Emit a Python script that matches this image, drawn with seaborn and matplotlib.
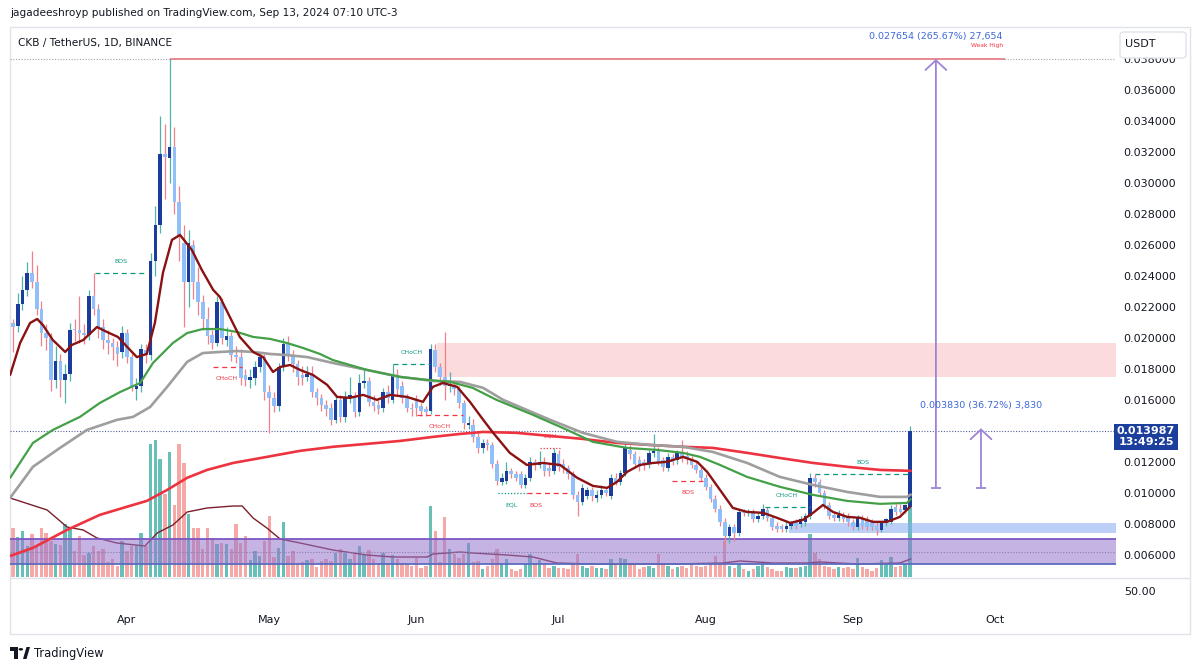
import numpy as np
import pandas as pd
import matplotlib
matplotlib.use("Agg")
import matplotlib.pyplot as plt
import matplotlib.transforms as mtrans
from matplotlib.patches import FancyBboxPatch, Rectangle, Circle, Polygon
from matplotlib.lines import Line2D
import seaborn as sns

# ---------------------------------------------------------------- data
start_date = "2024-03-08"

opens = [
    0.0210, 0.0208, 0.0222, 0.0231, 0.0242, 0.0236, 0.0219, 0.0203, 0.0200, 0.0173,
    0.0185, 0.0173, 0.0177, 0.0206, 0.0205, 0.0203, 0.0202, 0.0227, 0.0219, 0.0207,
    0.0199, 0.0197, 0.0194, 0.0191, 0.0203, 0.0188, 0.0167, 0.0169, 0.0192, 0.0189,
    0.0250, 0.0273, 0.0319, 0.0316, 0.0323, 0.0288, 0.0261, 0.0236, 0.0260, 0.0236,
    0.0223, 0.0212, 0.0202, 0.0197, 0.0223, 0.0199, 0.0201, 0.0189, 0.0188, 0.0176,
    0.0173, 0.0174, 0.0181, 0.0188, 0.0165, 0.0161, 0.0156, 0.0181, 0.0196, 0.0189,
    0.0183, 0.0176, 0.0175, 0.0177, 0.0165, 0.0161, 0.0157, 0.0155, 0.0147, 0.0160,
    0.0149, 0.0162, 0.0162, 0.0152, 0.0171, 0.0172, 0.0159, 0.0157, 0.0155, 0.0165,
    0.0160, 0.0176, 0.0169, 0.0161, 0.0155, 0.0160, 0.0156, 0.0154, 0.0153, 0.0192,
    0.0181, 0.0175, 0.0169, 0.0170, 0.0167, 0.0158, 0.0144, 0.0144, 0.0136, 0.0129,
    0.0132, 0.0131, 0.0119, 0.0107, 0.0108, 0.0114, 0.0112, 0.0112, 0.0105, 0.0110,
    0.0120, 0.0118, 0.0120, 0.0116, 0.0114, 0.0125, 0.0119, 0.0116, 0.0112, 0.0099,
    0.0094, 0.0098, 0.0102, 0.0097, 0.0099, 0.0102, 0.0098, 0.0110, 0.0107, 0.0113,
    0.0128, 0.0125, 0.0121, 0.0120, 0.0119, 0.0126, 0.0127, 0.0121, 0.0116, 0.0123,
    0.0121, 0.0126, 0.0124, 0.0122, 0.0118, 0.0115, 0.0110, 0.0104, 0.0096, 0.0090,
    0.0081, 0.0072, 0.0078, 0.0074, 0.0088, 0.0087, 0.0088, 0.0083, 0.0085, 0.0089,
    0.0084, 0.0079, 0.0079, 0.0077, 0.0079, 0.0081, 0.0080, 0.0081, 0.0085, 0.0110,
    0.0107, 0.0100, 0.0092, 0.0086, 0.0084, 0.0086, 0.0085, 0.0081, 0.0078, 0.0084,
    0.0083, 0.0081, 0.0079, 0.0076, 0.0081, 0.0081, 0.0091, 0.0090, 0.0089, 0.0091,
]
highs = [
    0.0212, 0.0229, 0.0240, 0.0249, 0.0256, 0.0247, 0.0224, 0.0209, 0.0203, 0.0195,
    0.0190, 0.0183, 0.0210, 0.0212, 0.0227, 0.0209, 0.0231, 0.0242, 0.0222, 0.0212,
    0.0205, 0.0200, 0.0198, 0.0208, 0.0206, 0.0191, 0.0174, 0.0196, 0.0196, 0.0255,
    0.0285, 0.0343, 0.0338, 0.0380, 0.0336, 0.0298, 0.0273, 0.0270, 0.0263, 0.0246,
    0.0228, 0.0220, 0.0205, 0.0227, 0.0226, 0.0207, 0.0204, 0.0195, 0.0193, 0.0180,
    0.0180, 0.0185, 0.0191, 0.0190, 0.0170, 0.0165, 0.0184, 0.0200, 0.0201, 0.0192,
    0.0186, 0.0182, 0.0182, 0.0182, 0.0168, 0.0164, 0.0160, 0.0158, 0.0163, 0.0163,
    0.0166, 0.0175, 0.0165, 0.0177, 0.0180, 0.0175, 0.0163, 0.0160, 0.0168, 0.0170,
    0.0183, 0.0180, 0.0172, 0.0164, 0.0158, 0.0163, 0.0158, 0.0156, 0.0196, 0.0196,
    0.0184, 0.0204, 0.0178, 0.0173, 0.0169, 0.0160, 0.0150, 0.0148, 0.0139, 0.0135,
    0.0135, 0.0133, 0.0121, 0.0113, 0.0120, 0.0116, 0.0114, 0.0114, 0.0112, 0.0123,
    0.0122, 0.0127, 0.0123, 0.0119, 0.0129, 0.0128, 0.0122, 0.0118, 0.0114, 0.0101,
    0.0106, 0.0104, 0.0104, 0.0102, 0.0105, 0.0104, 0.0112, 0.0113, 0.0115, 0.0132,
    0.0131, 0.0127, 0.0124, 0.0122, 0.0128, 0.0138, 0.0130, 0.0123, 0.0126, 0.0125,
    0.0128, 0.0134, 0.0127, 0.0124, 0.0120, 0.0117, 0.0112, 0.0106, 0.0099, 0.0092,
    0.0084, 0.0080, 0.0080, 0.0090, 0.0090, 0.0090, 0.0090, 0.0087, 0.0093, 0.0091,
    0.0086, 0.0081, 0.0080, 0.0081, 0.0082, 0.0083, 0.0085, 0.0087, 0.0113, 0.0112,
    0.0109, 0.0102, 0.0094, 0.0088, 0.0089, 0.0088, 0.0087, 0.0083, 0.0086, 0.0086,
    0.0085, 0.0083, 0.0081, 0.0082, 0.0084, 0.0092, 0.0093, 0.0093, 0.0093, 0.0143,
]
lows = [
    0.0191, 0.0204, 0.0218, 0.0227, 0.0232, 0.0215, 0.0195, 0.0192, 0.0166, 0.0168,
    0.0162, 0.0158, 0.0172, 0.0198, 0.0197, 0.0196, 0.0199, 0.0215, 0.0200, 0.0193,
    0.0190, 0.0186, 0.0182, 0.0187, 0.0184, 0.0166, 0.0160, 0.0165, 0.0184, 0.0186,
    0.0240, 0.0268, 0.0290, 0.0300, 0.0280, 0.0250, 0.0207, 0.0220, 0.0225, 0.0215,
    0.0205, 0.0196, 0.0193, 0.0195, 0.0196, 0.0195, 0.0185, 0.0184, 0.0170, 0.0169,
    0.0168, 0.0170, 0.0178, 0.0160, 0.0139, 0.0152, 0.0153, 0.0179, 0.0185, 0.0178,
    0.0170, 0.0170, 0.0172, 0.0162, 0.0157, 0.0153, 0.0150, 0.0144, 0.0145, 0.0146,
    0.0146, 0.0158, 0.0149, 0.0150, 0.0168, 0.0156, 0.0153, 0.0151, 0.0152, 0.0158,
    0.0158, 0.0163, 0.0158, 0.0152, 0.0150, 0.0150, 0.0150, 0.0150, 0.0151, 0.0178,
    0.0170, 0.0160, 0.0165, 0.0163, 0.0155, 0.0141, 0.0141, 0.0133, 0.0126, 0.0126,
    0.0128, 0.0116, 0.0105, 0.0105, 0.0106, 0.0110, 0.0108, 0.0103, 0.0103, 0.0108,
    0.0115, 0.0116, 0.0111, 0.0111, 0.0112, 0.0114, 0.0113, 0.0109, 0.0096, 0.0085,
    0.0092, 0.0096, 0.0095, 0.0094, 0.0097, 0.0098, 0.0096, 0.0105, 0.0105, 0.0111,
    0.0122, 0.0116, 0.0114, 0.0115, 0.0116, 0.0123, 0.0118, 0.0114, 0.0114, 0.0118,
    0.0119, 0.0120, 0.0119, 0.0116, 0.0113, 0.0108, 0.0102, 0.0094, 0.0088, 0.0079,
    0.0066, 0.0068, 0.0069, 0.0072, 0.0085, 0.0085, 0.0081, 0.0081, 0.0083, 0.0082,
    0.0076, 0.0075, 0.0075, 0.0075, 0.0077, 0.0077, 0.0078, 0.0079, 0.0083, 0.0104,
    0.0098, 0.0090, 0.0083, 0.0082, 0.0082, 0.0081, 0.0079, 0.0076, 0.0076, 0.0077,
    0.0076, 0.0076, 0.0073, 0.0075, 0.0079, 0.0080, 0.0086, 0.0087, 0.0087, 0.0090,
]
closes = [
    0.0207, 0.0222, 0.0231, 0.0242, 0.0236, 0.0219, 0.0203, 0.0200, 0.0173, 0.0185,
    0.0173, 0.0177, 0.0205, 0.0205, 0.0203, 0.0202, 0.0227, 0.0219, 0.0207, 0.0199,
    0.0197, 0.0194, 0.0190, 0.0203, 0.0188, 0.0169, 0.0169, 0.0193, 0.0189, 0.0250,
    0.0273, 0.0319, 0.0317, 0.0323, 0.0288, 0.0265, 0.0236, 0.0261, 0.0236, 0.0223,
    0.0212, 0.0201, 0.0197, 0.0223, 0.0200, 0.0201, 0.0189, 0.0188, 0.0174, 0.0173,
    0.0175, 0.0181, 0.0188, 0.0165, 0.0161, 0.0156, 0.0181, 0.0196, 0.0189, 0.0183,
    0.0175, 0.0174, 0.0177, 0.0165, 0.0161, 0.0157, 0.0154, 0.0147, 0.0160, 0.0149,
    0.0162, 0.0163, 0.0152, 0.0171, 0.0172, 0.0159, 0.0156, 0.0154, 0.0165, 0.0161,
    0.0176, 0.0167, 0.0161, 0.0155, 0.0154, 0.0155, 0.0153, 0.0152, 0.0193, 0.0181,
    0.0175, 0.0169, 0.0170, 0.0167, 0.0158, 0.0145, 0.0145, 0.0136, 0.0129, 0.0132,
    0.0131, 0.0119, 0.0108, 0.0110, 0.0114, 0.0112, 0.0110, 0.0105, 0.0110, 0.0120,
    0.0118, 0.0120, 0.0114, 0.0114, 0.0126, 0.0117, 0.0116, 0.0112, 0.0099, 0.0094,
    0.0103, 0.0102, 0.0098, 0.0099, 0.0102, 0.0100, 0.0110, 0.0107, 0.0113, 0.0129,
    0.0125, 0.0119, 0.0117, 0.0118, 0.0126, 0.0127, 0.0120, 0.0117, 0.0123, 0.0120,
    0.0126, 0.0123, 0.0122, 0.0118, 0.0115, 0.0110, 0.0104, 0.0096, 0.0090, 0.0081,
    0.0072, 0.0078, 0.0074, 0.0088, 0.0087, 0.0088, 0.0083, 0.0085, 0.0090, 0.0084,
    0.0078, 0.0077, 0.0077, 0.0079, 0.0081, 0.0079, 0.0083, 0.0085, 0.0110, 0.0107,
    0.0100, 0.0092, 0.0085, 0.0084, 0.0086, 0.0083, 0.0081, 0.0078, 0.0084, 0.0079,
    0.0078, 0.0078, 0.0076, 0.0081, 0.0083, 0.0090, 0.0088, 0.0088, 0.0092, 0.013987,
]
volumes = [
    49, 40, 46, 31, 43, 31, 49, 44, 36, 33,
    32, 53, 48, 26, 41, 22, 24, 31, 26, 28,
    15, 18, 11, 36, 26, 31, 31, 44, 31, 133,
    137, 118, 83, 125, 72, 133, 114, 63, 49, 49,
    28, 49, 39, 33, 34, 33, 28, 53, 34, 41,
    17, 26, 21, 36, 61, 20, 29, 55, 21, 26,
    14, 15, 17, 18, 10, 16, 18, 16, 24, 28,
    24, 18, 23, 31, 23, 27, 18, 13, 24, 13,
    22, 18, 14, 13, 11, 19, 9, 11, 71, 46,
    15, 60, 28, 23, 19, 23, 34, 15, 16, 8,
    11, 18, 28, 13, 18, 8, 6, 8, 13, 23,
    13, 17, 13, 9, 11, 9, 9, 8, 13, 23,
    11, 9, 11, 9, 9, 8, 18, 13, 19, 18,
    14, 13, 8, 10, 11, 9, 23, 14, 11, 8,
    10, 11, 9, 13, 11, 10, 11, 13, 21, 13,
    36, 11, 9, 13, 8, 6, 8, 11, 13, 10,
    8, 6, 6, 10, 9, 9, 10, 11, 43, 24,
    18, 11, 10, 8, 10, 9, 10, 8, 19, 10,
    8, 6, 9, 17, 14, 20, 10, 11, 13, 73,
]

# moving averages (bar offset, value)
fast_ma_x = [-0.6, 1.5, 3.6, 5.1, 6.3, 8.4, 11.0, 12.4, 14.8, 17.7, 19.8, 22.1, 24.7, 26.1,
             28.2, 29.9, 31.6, 33.5, 35.2, 37.7, 39.8, 42.2, 43.6, 45.7, 47.8, 50.6, 52.7,
             54.8, 56.3, 58.4, 60.5, 63.2, 66.2, 68.3, 71.0, 73.8, 76.7, 79.5, 83.0, 86.4,
             88.5, 90.6, 93.6, 96.3, 99.1, 101.2, 104.7, 108.3, 111.7, 115.3, 118.9, 122.2,
             125.2, 127.3, 129.4, 132.1, 134.9, 137.8, 141.2, 144.2, 146.3, 149.0, 151.7,
             154.7, 158.1, 161.0, 163.8, 166.5, 168.6, 170.7, 172.8, 175.8, 178.5, 181.2,
             184.2, 186.9, 189.0]
fast_ma_y = [0.01762, 0.01968, 0.02097, 0.02123, 0.02084, 0.01987, 0.01910, 0.01955, 0.01987,
             0.02071, 0.02039, 0.02007, 0.01922, 0.01877, 0.01897, 0.02097, 0.02420, 0.02633,
             0.02665, 0.02568, 0.02439, 0.02310, 0.02265, 0.02136, 0.02007, 0.01910, 0.01877,
             0.01781, 0.01813, 0.01826, 0.01794, 0.01762, 0.01698, 0.01620, 0.01614, 0.01633,
             0.01601, 0.01633, 0.01620, 0.01588, 0.01685, 0.01710, 0.01685, 0.01588, 0.01472,
             0.01388, 0.01259, 0.01181, 0.01194, 0.01181, 0.01098, 0.01046, 0.01033, 0.01072,
             0.01136, 0.01181, 0.01194, 0.01201, 0.01233, 0.01201, 0.01136, 0.01020, 0.00904,
             0.00878, 0.00872, 0.00840, 0.00807, 0.00827, 0.00872, 0.00923, 0.00878, 0.00846,
             0.00840, 0.00814, 0.00814, 0.00846, 0.00910]
green_ma_x = [-0.6, 4.2, 8.4, 14.1, 18.3, 22.6, 26.8, 29.5, 33.7, 36.7, 40.0, 43.6, 47.2, 50.6,
              54.2, 57.7, 61.1, 64.7, 67.4, 74.6, 81.6, 87.3, 92.1, 96.9, 101.9, 109.6, 116.8,
              122.2, 129.4, 135.7, 141.2, 144.8, 149.0, 154.7, 161.6, 168.6, 175.8, 182.7,
              188.4, 189.2]
green_ma_y = [0.01098, 0.01323, 0.01407, 0.01491, 0.01581, 0.01652, 0.01710, 0.01839, 0.01968,
              0.02032, 0.02058, 0.02058, 0.02039, 0.02007, 0.01994, 0.01968, 0.01936, 0.01897,
              0.01858, 0.01794, 0.01749, 0.01730, 0.01717, 0.01678, 0.01601, 0.01504, 0.01407,
              0.01330, 0.01291, 0.01278, 0.01259, 0.01233, 0.01181, 0.01104, 0.01040, 0.00988,
              0.00949, 0.00930, 0.00936, 0.00960]
gray_ma_x = [-0.6, 4.2, 9.9, 15.6, 21.9, 25.3, 28.9, 32.5, 36.7, 40.0, 43.6, 47.2, 50.6, 54.2,
             57.7, 62.0, 67.4, 74.6, 81.6, 88.5, 94.2, 99.1, 103.3, 113.2, 120.1, 127.3, 134.3,
             141.2, 147.5, 154.7, 161.6, 168.6, 175.8, 182.7, 188.4, 189.2]
gray_ma_y = [0.00969, 0.01169, 0.01291, 0.01407, 0.01472, 0.01491, 0.01555, 0.01685, 0.01846,
             0.01903, 0.01910, 0.01916, 0.01910, 0.01897, 0.01890, 0.01877, 0.01839, 0.01794,
             0.01749, 0.01723, 0.01717, 0.01678, 0.01601, 0.01472, 0.01388, 0.01330, 0.01310,
             0.01298, 0.01265, 0.01194, 0.01104, 0.01052, 0.01007, 0.00975, 0.00975, 0.00990]
red_ma_x = [-0.6, 4.2, 11.4, 18.3, 25.3, 28.2, 32.5, 36.7, 40.9, 46.4, 53.5, 60.5, 67.4, 74.6,
            81.6, 88.5, 94.2, 99.1, 106.2, 113.2, 120.1, 127.3, 134.3, 141.2, 147.5, 154.7,
            161.6, 168.6, 175.8, 182.7, 189.2]
red_ma_y = [0.00594, 0.00646, 0.00762, 0.00859, 0.00923, 0.00949, 0.01020, 0.01098, 0.01149,
            0.01194, 0.01233, 0.01272, 0.01298, 0.01317, 0.01336, 0.01362, 0.01381, 0.01394,
            0.01388, 0.01368, 0.01349, 0.01323, 0.01310, 0.01298, 0.01291, 0.01259, 0.01226,
            0.01194, 0.01169, 0.01149, 0.01143]
vol_ma_x = [-0.6, 7.2, 11.4, 14.8, 17.7, 21.9, 27.8, 30.4, 33.7, 36.7, 40.9, 46.4, 48.3, 50.6,
            53.5, 56.3, 60.5, 67.4, 74.6, 80.1, 87.3, 88.5, 94.2, 96.9, 104.1, 109.6, 114.6,
            121.6, 132.1, 139.1, 149.6, 153.2, 160.2, 167.3, 170.1, 177.9, 186.9, 189.2]
vol_ma_y = [79, 67, 50, 47, 39, 34, 31, 44, 52, 65, 69, 71, 71, 59, 49, 38, 34, 27, 22, 20,
            20, 23, 25, 24, 22, 20, 14, 13, 13, 13, 14, 16, 14, 14, 15, 13, 14, 18]

# smart-money-concept structure marks
smc_text = ["BOS", "CHoCH", "CHoCH", "CHoCH", "EQH", "EQL", "BOS", "BOS", "CHoCH", "BOS"]
smc_price = [0.02420, 0.01813, 0.01833, 0.01504, 0.01291, 0.01001, 0.00997, 0.01078, 0.00910, 0.01123]
smc_from = [17.3, 42.1, 80.1, 85.1, 111.0, 102.2, 108.3, 138.9, 158.5, 169.0]
smc_to = [27.8, 48.3, 87.9, 94.8, 115.3, 108.3, 117.4, 145.4, 168.0, 189.0]
smc_label_at = [22.8, 45.1, 84.1, 90.0, 113.2, 105.0, 110.2, 142.3, 163.1, 179.1]
smc_bull = [True, False, True, False, False, True, False, False, True, True]
smc_above = [True, False, True, False, True, False, False, False, True, True]

# zones: (first bar, low, high)
supply_zone = (89.4, 0.01749, 0.01968)
demand_zone = (163.5, 0.00741, 0.00809)
purple_zone = (-0.6, 0.00540, 0.00704)
purple_mid = 0.00620

weak_high = 0.0380
weak_high_bar = 33
weak_high_end = 209.0

measure_base = 0.010346
measure_change = [0.027654, 0.003830]
measure_pct = [265.67, 36.72]
measure_ticks = [27654, 3830]
measure_bar = [194.5, 204.0]

price_ticks = [0.006, 0.008, 0.010, 0.012, 0.016, 0.018, 0.020, 0.022, 0.024,
               0.026, 0.028, 0.030, 0.032, 0.034, 0.036, 0.038]
countdown = "13:49:25"

# ---------------------------------------------------------------- style
sns.set_theme(style="white")
plt.rcParams["font.family"] = ["DejaVu Sans"]

TXT = "#131722"
UP_BODY, DN_BODY = "#1b3c9a", "#90bff9"
UP_WICK, DN_WICK = "#4fb3a9", "#f08089"
TEAL, RED = "#089981", "#f23645"
PURPLE = "#9d84d6"

W, H = 1200, 670
fig = plt.figure(figsize=(12, 6.7), dpi=100, facecolor="white")


def fx(px):
    return px / W


def fy(py):
    return 1 - py / H


L, R, T, B, BL = 10, 1116, 27, 577, 605
ax = fig.add_axes([fx(L), fy(B), fx(R) - fx(L), fy(T) - fy(B)])
ax_v = ax.twinx()
ax.set_zorder(ax_v.get_zorder() + 1)
ax.patch.set_visible(False)
ax_low = fig.add_axes([fx(L), fy(BL), fx(R) - fx(L), fy(B) - fy(BL)], sharex=ax)

o = np.array(opens); h = np.array(highs); l = np.array(lows); c = np.array(closes)
v = np.array(volumes, dtype=float)
n = len(c)
x = np.arange(n)
up = c >= o

# volume
ax_v.bar(x[up], v[up], width=0.72, color="#26a69a", alpha=0.7, linewidth=0)
ax_v.bar(x[~up], v[~up], width=0.72, color="#ef5350", alpha=0.5, linewidth=0)
sns.lineplot(x=vol_ma_x, y=vol_ma_y, ax=ax_v, color="#7a1f2b", linewidth=1.0,
             sort=False, estimator=None, legend=False)
ax_v.set_ylim(0, 550)
ax_v.axis("off")

XR = (R - 13) / 4.745
XL = -0.63

# zones
ax.add_patch(Rectangle((supply_zone[0], supply_zone[1]), XR - supply_zone[0],
                       supply_zone[2] - supply_zone[1], facecolor="#f7a1a1", alpha=0.38,
                       edgecolor="none", zorder=1))
ax.add_patch(Rectangle((demand_zone[0], demand_zone[1]), XR - demand_zone[0],
                       demand_zone[2] - demand_zone[1], facecolor="#86aaf2", alpha=0.55,
                       edgecolor="none", zorder=1))
ax.add_patch(Rectangle((purple_zone[0], purple_zone[1]), XR - purple_zone[0],
                       purple_zone[2] - purple_zone[1], facecolor="#9575cd", alpha=0.55,
                       edgecolor="none", zorder=1))
ax.hlines([purple_zone[2]], purple_zone[0], XR, color="#7e57c2", lw=1.3, zorder=1.2)
ax.hlines([purple_zone[1]], purple_zone[0], XR, color="#5c6bc0", lw=1.3, zorder=1.2)
ax.hlines([purple_mid], purple_zone[0], XR, color="#8a7fb0", lw=0.8, ls=(0, (1, 1.5)), zorder=1.2)

# candles
ax.vlines(x[up], l[up], h[up], color=UP_WICK, lw=0.9, zorder=3)
ax.vlines(x[~up], l[~up], h[~up], color=DN_WICK, lw=0.9, zorder=3)
bb = np.minimum(o, c)
bh = np.maximum(np.abs(c - o), 0.00007)
ax.bar(x[up], bh[up], bottom=bb[up], width=0.76, color=UP_BODY, linewidth=0, zorder=3.5)
ax.bar(x[~up], bh[~up], bottom=bb[~up], width=0.76, color=DN_BODY, linewidth=0, zorder=3.5)

# moving averages
for xs, ys, col, lw in [(red_ma_x, red_ma_y, "#ee3340", 1.9),
                        (gray_ma_x, gray_ma_y, "#9e9e9e", 1.9),
                        (green_ma_x, green_ma_y, "#43a047", 1.6),
                        (fast_ma_x, fast_ma_y, "#8a1212", 1.7)]:
    sns.lineplot(x=xs, y=ys, ax=ax, color=col, linewidth=lw, sort=False,
                 estimator=None, legend=False, zorder=4)

# horizontal reference lines
ax.axhline(weak_high, color="#a0a3ab", lw=0.8, ls=(0, (1, 1.5)), zorder=2)
ax.hlines(weak_high, weak_high_bar, weak_high_end, color="#e88a92", lw=1.4, zorder=2.5)
ax.annotate("Weak High", xy=(weak_high_end, weak_high), xytext=(-1, 10),
            textcoords="offset points", ha="right", va="center", fontsize=4.3,
            color=RED, zorder=6)
ax.axhline(c[-1], color="#55619c", lw=0.8, ls=(0, (1, 1.5)), zorder=2)

# structure marks
for txt, p, x0, x1, xl, bull, above in zip(smc_text, smc_price, smc_from, smc_to,
                                          smc_label_at, smc_bull, smc_above):
    col = TEAL if bull else RED
    ls = (0, (1, 1.5)) if txt in ("EQH", "EQL") else (0, (4, 3))
    ax.hlines(p, x0, x1, color=col, lw=0.9, ls=ls, zorder=5)
    ax.annotate(txt, xy=(xl, p), xytext=(0, 8.5 if above else -8.5),
                textcoords="offset points", ha="center", va="center",
                fontsize=4.5, color=col, zorder=6)

# measurement arrows
for xb, chg, pct, tk in zip(measure_bar, measure_change, measure_pct, measure_ticks):
    top = measure_base + chg
    ax.annotate("", xy=(xb, top), xytext=(xb, measure_base),
                arrowprops=dict(arrowstyle="->,head_length=0.7,head_width=0.75",
                                color=PURPLE, lw=1.3, shrinkA=0, shrinkB=0,
                                mutation_scale=10), zorder=6)
    ax.hlines(measure_base, xb - 1.1, xb + 1.1, color=PURPLE, lw=1.3, zorder=6)
    ax.annotate(f"{chg:.6f} ({pct:.2f}%) {tk:,}", xy=(xb, top), xytext=(0, 16.5),
                textcoords="offset points", ha="center", va="center", fontsize=6.8,
                color="#3d68d8", zorder=6, annotation_clip=False)

# axes ranges
ax.set_xlim(XL, XR)
ax.set_ylim(0.004581, 0.040065)
for a in (ax, ax_low):
    for s in a.spines.values():
        s.set_visible(False)
ax.set_xlabel(""); ax.set_ylabel("")
ax_v.set_xlabel(""); ax_v.set_ylabel("")

ax.yaxis.tick_right()
ax.set_yticks(price_ticks)
ax.set_yticklabels([f"{t:.6f}" for t in price_ticks])
ax.tick_params(axis="y", length=0, pad=5, labelsize=8, labelcolor=TXT)
ax.tick_params(axis="x", which="both", bottom=False, labelbottom=False)

# current price tag
blend = mtrans.blended_transform_factory(ax.transAxes, ax.transData)
ax.annotate(f"{c[-1]:.6f}\n{countdown}", xy=(1 + 30 / (R - L), c[-1]), xycoords=blend,
            xytext=(0, -4), textcoords="offset points", ha="center", va="center",
            fontsize=8, fontweight="bold", color="white", linespacing=1.15,
            bbox=dict(boxstyle="square,pad=0.22", fc="#1c3f9e", ec="none"),
            annotation_clip=False, zorder=10)

# lower pane and dates
dates = pd.date_range(start_date, periods=n, freq="D")
month_starts = pd.date_range("2024-04-01", "2024-10-01", freq="MS")
month_pos = (month_starts - dates[0]).days
ax_low.set_xticks(month_pos)
ax_low.set_xticklabels(month_starts.strftime("%b"))
ax_low.tick_params(axis="x", length=0, pad=7.5, labelsize=8, labelcolor=TXT)
ax_low.set_ylim(0, 100)
ax_low.yaxis.tick_right()
ax_low.set_yticks([50])
ax_low.set_yticklabels(["50.00"])
ax_low.tick_params(axis="y", length=0, pad=6, labelsize=8, labelcolor=TXT)
ax_low.patch.set_visible(False)
ax_low.set_xlim(XL, XR)

# chrome
fig.patches.append(Rectangle((fx(10), fy(634)), fx(1190) - fx(10), fy(27) - fy(634),
                             transform=fig.transFigure, fill=False, edgecolor="#e0e3eb",
                             lw=1.0, zorder=0))
fig.lines.append(Line2D([fx(10), fx(1190)], [fy(577.5), fy(577.5)],
                        transform=fig.transFigure, color="#e0e3eb", lw=1.0))
usdt = FancyBboxPatch((fx(1120), fy(58)), fx(1186) - fx(1120), fy(32) - fy(58),
                      boxstyle="round,pad=0,rounding_size=0.004",
                      transform=fig.transFigure, facecolor="white",
                      edgecolor="#e0e3eb", lw=1.0, zorder=8)
fig.patches.append(usdt)
fig.text(fx(1125), fy(44), "USDT", ha="left", va="center", fontsize=8, color=TXT, zorder=9)
fig.text(fx(10), fy(13), "jagadeeshroyp published on TradingView.com, Sep 13, 2024 07:10 UTC-3",
         ha="left", va="center", fontsize=7.6, color=TXT)
fig.text(fx(18), fy(43), "CKB / TetherUS, 1D, BINANCE", ha="left", va="center",
         fontsize=7.6, color=TXT)

# TradingView logo
def frect(x0, y0, x1, y1, **kw):
    return Rectangle((fx(x0), fy(y1)), fx(x1) - fx(x0), fy(y0) - fy(y1),
                     transform=fig.transFigure, **kw)


fig.patches.append(frect(10, 647, 18, 651, facecolor="#131722", edgecolor="none"))
fig.patches.append(frect(14, 647, 18, 659, facecolor="#131722", edgecolor="none"))
fig.patches.append(Circle((fx(20.8), fy(649.3)), 0.0019, transform=fig.transFigure,
                          facecolor="#131722", edgecolor="none"))
fig.patches.append(Polygon([(fx(23), fy(659)), (fx(26.5), fy(647)), (fx(30), fy(647)),
                            (fx(26.5), fy(659))], closed=True, transform=fig.transFigure,
                           facecolor="#131722", edgecolor="none"))
fig.text(fx(34), fy(654), "TradingView", ha="left", va="center", fontsize=8.3, color=TXT)

fig.savefig("out.png", dpi=100, facecolor="white")
